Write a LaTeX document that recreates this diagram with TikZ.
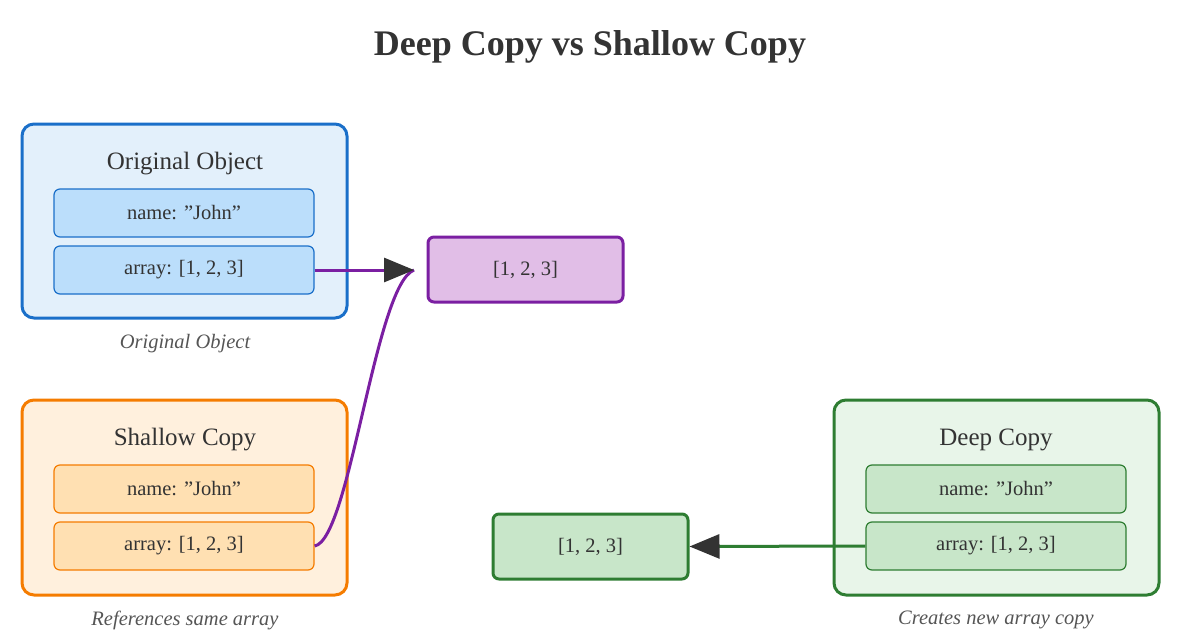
\documentclass[tikz,border=0pt]{standalone}
\usepackage{fontspec}
\setmainfont{Liberation Serif}
\usetikzlibrary{arrows.meta}
\definecolor{txt}{HTML}{333333}
\definecolor{bluB}{HTML}{1A6FC9}\definecolor{bluF}{HTML}{E3F0FB}\definecolor{bluI}{HTML}{BBDEFB}
\definecolor{orB}{HTML}{F57C00}\definecolor{orF}{HTML}{FFF0DD}\definecolor{orI}{HTML}{FFE0B2}
\definecolor{grB}{HTML}{2E7D32}\definecolor{grF}{HTML}{E8F5E9}\definecolor{grI}{HTML}{C8E6C9}
\definecolor{puB}{HTML}{7B1FA2}\definecolor{puF}{HTML}{E1BEE7}
\definecolor{cap}{HTML}{555555}
\newcommand{\qq}{\char34\relax}
\begin{document}
\begin{tikzpicture}[x=1pt,y=-1pt,
 outer/.style={rounded corners=12pt,line width=3pt},
 inner/.style={rounded corners=6pt,line width=1.2pt,minimum width=260pt,minimum height=48pt,inner sep=0pt,font=\fontsize{20.5}{24}\selectfont,text=txt},
 val/.style={rounded corners=6pt,line width=3pt,minimum width=195pt,minimum height=65pt,inner sep=0pt,font=\fontsize{20.5}{24}\selectfont,text=txt},
 ttl/.style={font=\fontsize{25}{29}\selectfont,text=txt},
 capt/.style={font=\itshape\fontsize{20.5}{24}\selectfont,text=cap},
 arr/.style={line width=3pt,-{Triangle[length=30pt,width=24pt,fill=txt,color=txt]}}]
\useasboundingbox (0,0) rectangle (1200,642);
\node[font=\bfseries\fontsize{36}{40}\selectfont,text=txt] (title) at (590,47) {Deep Copy vs Shallow Copy};
% original
\draw[outer,draw=bluB,fill=bluF] (22,124) rectangle (347,318);
\node[ttl] (ot) at (185,164) {Original Object};
\node[inner,draw=bluB,fill=bluI] (on) at (184,213) {name: \qq John\qq};
\node[inner,draw=bluB,fill=bluI] (oa) at (184,270) {array: [1, 2, 3]};
\node[capt] (oc) at (185,344) {Original Object};
% shared array
\node[val,draw=puB,fill=puF] (pa) at (525.5,269.5) {[1, 2, 3]};
\coordinate (tip) at (414,270);
% shallow
\draw[outer,draw=orB,fill=orF] (22,400) rectangle (347,595);
\node[ttl] (st) at (185,440) {Shallow Copy};
\node[inner,draw=orB,fill=orI] (sn) at (184,489) {name: \qq John\qq};
\node[inner,draw=orB,fill=orI] (sa) at (184,546) {array: [1, 2, 3]};
\node[capt] (sc) at (185,620) {References same array};
% deep
\draw[outer,draw=grB,fill=grF] (834,400) rectangle (1159,595);
\node[ttl] (dt) at (996,440) {Deep Copy};
\node[inner,draw=grB,fill=grI] (dn) at (996,489) {name: \qq John\qq};
\node[inner,draw=grB,fill=grI] (da) at (996,546) {array: [1, 2, 3]};
\node[capt] (dc) at (996,620) {Creates new array copy};
\node[val,draw=grB,fill=grI] (ga) at (590.5,546.5) {[1, 2, 3]};
% connectors
\draw[puB,line width=3pt] (sa.east) .. controls (350,540) and (375,285) .. (tip);
\draw[arr,puB] (oa.east) -- (tip);
\draw[arr,grB] (da.west) -- (ga.east);
\end{tikzpicture}
\end{document}
